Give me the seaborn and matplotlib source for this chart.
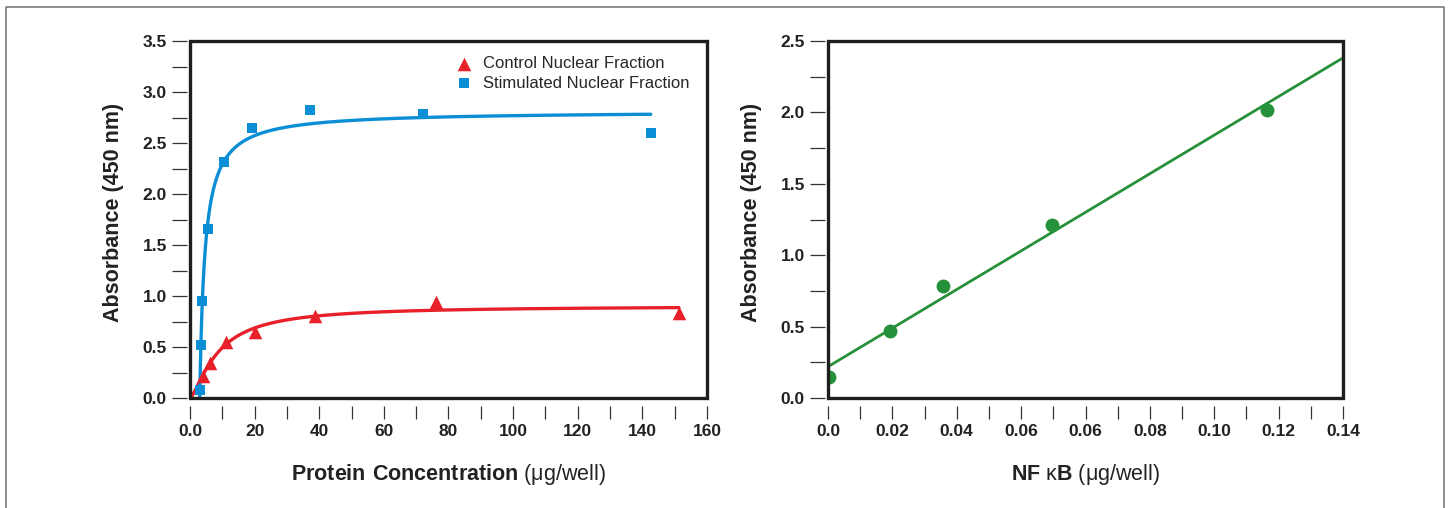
import numpy as np
import matplotlib
matplotlib.use("Agg")
import matplotlib.pyplot as plt
import seaborn as sns
from matplotlib.patches import Rectangle
from matplotlib.lines import Line2D

# left panel: protein concentration (ug/well) vs absorbance
control_x = [3.9, 6.2, 11.2, 20.2, 38.8, 76.1, 151.3]
control_y = [0.22, 0.34, 0.55, 0.65, 0.80, 0.94, 0.83]
stim_x = [3.1, 3.3, 3.8, 5.6, 10.6, 19.3, 37.0, 72.1, 142.6]
stim_y = [0.08, 0.52, 0.95, 1.66, 2.31, 2.65, 2.82, 2.78, 2.60]

left_xticks = [0, 20, 40, 60, 80, 100, 120, 140, 160]
left_xlabels = ["0.0", "20", "40", "60", "80", "100", "120", "140", "160"]
left_yticks = [0.0, 0.5, 1.0, 1.5, 2.0, 2.5, 3.0, 3.5]
left_ylabels = ["0.0", "0.5", "1.0", "1.5", "2.0", "2.5", "3.0", "3.5"]

# right panel: NF kB standard curve
nfkb_x = [0.0003, 0.0193, 0.0357, 0.0696, 0.1364]
nfkb_y = [0.147, 0.469, 0.784, 1.211, 2.017]

right_xticks = [0.0, 0.02, 0.04, 0.06, 0.08, 0.10, 0.12, 0.14, 0.16]
right_xlabels = ["0.0", "0.02", "0.04", "0.06", "0.06", "0.08", "0.10", "0.12", "0.14"]
right_yticks = [0.0, 0.5, 1.0, 1.5, 2.0, 2.5]
right_ylabels = ["0.0", "0.5", "1.0", "1.5", "2.0", "2.5"]

RED = "#e8202a"
BLUE = "#0a8fd6"
GREEN = "#25913a"

sns.set_style("ticks")
plt.rcParams["font.family"] = ["Liberation Sans", "DejaVu Sans"]
plt.rcParams["mathtext.fontset"] = "custom"
plt.rcParams["mathtext.rm"] = "Liberation Sans"
plt.rcParams["mathtext.bf"] = "Liberation Sans:bold"


def fit_saturation(x, y):
    # offset hill curve, grid search with linear bmax
    x = np.asarray(x, float)
    y = np.asarray(y, float)
    ks = np.linspace(0.3, 40, 400)
    best = (np.inf, None)
    for x0 in np.linspace(0, x.min() - 0.1, 40):
        u = np.clip(x - x0, 0, None)
        for n in np.linspace(0.8, 3.0, 23):
            un = u ** n
            f = un[None, :] / (ks[:, None] ** n + un[None, :])
            b = (f * y).sum(1) / (f * f).sum(1)
            sse = ((y - b[:, None] * f) ** 2).sum(1)
            i = sse.argmin()
            if sse[i] < best[0]:
                best = (sse[i], (b[i], ks[i], n, x0))
    b, k, n, x0 = best[1]
    xs = np.linspace(x0, x.max(), 400)
    us = (xs - x0) ** n
    return xs, b * us / (k ** n + us)


def style_axes(ax, xticks, xlabels, xminor, yticks, ylabels, yminor):
    ax.spines["top"].set_visible(False)
    ax.spines["right"].set_visible(False)
    ax.spines["left"].set_position(("outward", 2.2))
    ax.spines["bottom"].set_position(("outward", 6))
    ax.spines["left"].set_color("none")
    ax.spines["bottom"].set_color("none")
    ax.set_xticks(xticks)
    ax.set_xticklabels(xlabels)
    ax.set_xticks(xminor, minor=True)
    ax.set_yticks(yticks)
    ax.set_yticklabels(ylabels)
    ax.set_yticks(yminor, minor=True)
    for which in ("major", "minor"):
        ax.tick_params(axis="y", which=which, direction="out", length=10.5, width=0.9,
                       color="#333333", pad=4)
        ax.tick_params(axis="x", which=which, direction="out", length=9.5, width=0.9,
                       color="#333333", pad=3)
    for lab in ax.get_xticklabels() + ax.get_yticklabels():
        lab.set_fontweight("bold")
        lab.set_fontsize(12.5)
        lab.set_color("#222222")
    ax.add_patch(Rectangle((0, 0), 1, 1, transform=ax.transAxes, fill=False,
                           lw=2.4, ec="#1e1e1e", clip_on=False, zorder=5))
    ax.set_ylabel("Absorbance (450 nm)", fontsize=15.5, fontweight="bold",
                  color="#222222")
    ax.yaxis.set_label_coords(-0.128, 0.52)


fig = plt.figure(figsize=(14.49, 5.08), dpi=100)
ax1 = fig.add_axes([190 / 1449, 1 - 398 / 508, 517 / 1449, 357 / 508])
ax2 = fig.add_axes([828 / 1449, 1 - 398 / 508, 515 / 1449, 357 / 508])

# left panel
cx, cy = fit_saturation(control_x, control_y)
sx, sy = fit_saturation(stim_x, stim_y)
sns.lineplot(x=cx, y=cy, ax=ax1, color=RED, lw=2.4, sort=False, label="_nolegend_")
sns.lineplot(x=sx, y=sy, ax=ax1, color=BLUE, lw=2.4, sort=False, label="_nolegend_")
sns.scatterplot(x=control_x, y=control_y, ax=ax1, marker="^", s=95, color=RED,
                linewidth=0, zorder=3, label="Control Nuclear Fraction")
sns.scatterplot(x=stim_x, y=stim_y, ax=ax1, marker="s", s=48, color=BLUE,
                linewidth=0, zorder=3, label="Stimulated Nuclear Fraction")
ax1.set_xlim(0, 160)
ax1.set_ylim(0, 3.5)
style_axes(ax1, left_xticks, left_xlabels, np.arange(0, 161, 10),
           left_yticks, left_ylabels, np.arange(0, 3.51, 0.25))
ax1.set_xlabel(r"$\mathbf{Protein\ Concentration}$ (μg/well)", fontsize=15.5,
               color="#222222", labelpad=17)
leg = ax1.legend(loc="upper right", bbox_to_anchor=(0.985, 0.985), frameon=False,
                 fontsize=12, handletextpad=0.1, labelspacing=0.25, borderaxespad=0.2)

# right panel
ax2.set_xlim(0, 0.16)
ax2.set_ylim(0, 2.5)
sns.regplot(x=nfkb_x, y=nfkb_y, ax=ax2, ci=None, truncate=False, color=GREEN,
            scatter_kws=dict(s=100, linewidths=0, alpha=1, zorder=3),
            line_kws=dict(lw=2.0))
style_axes(ax2, right_xticks, right_xlabels, np.arange(0, 0.161, 0.01),
           right_yticks, right_ylabels, np.arange(0, 2.51, 0.25))
ax2.set_xlim(0, 0.16)
ax2.set_xlabel(r"$\mathbf{NF}$ κ$\mathbf{B}$ (μg/well)", fontsize=15.5,
               color="#222222", labelpad=17)

# thin grey frame around the figure (open at the bottom)
fx0, fx1, fy = 6.5 / 1449, 1443.5 / 1449, 1 - 6.5 / 508
fig.add_artist(Line2D([fx0, fx0, fx1, fx1], [0, fy, fy, 0], transform=fig.transFigure,
                      color="#707070", lw=1.1))

fig.savefig("out.png", dpi=100, facecolor="white")
